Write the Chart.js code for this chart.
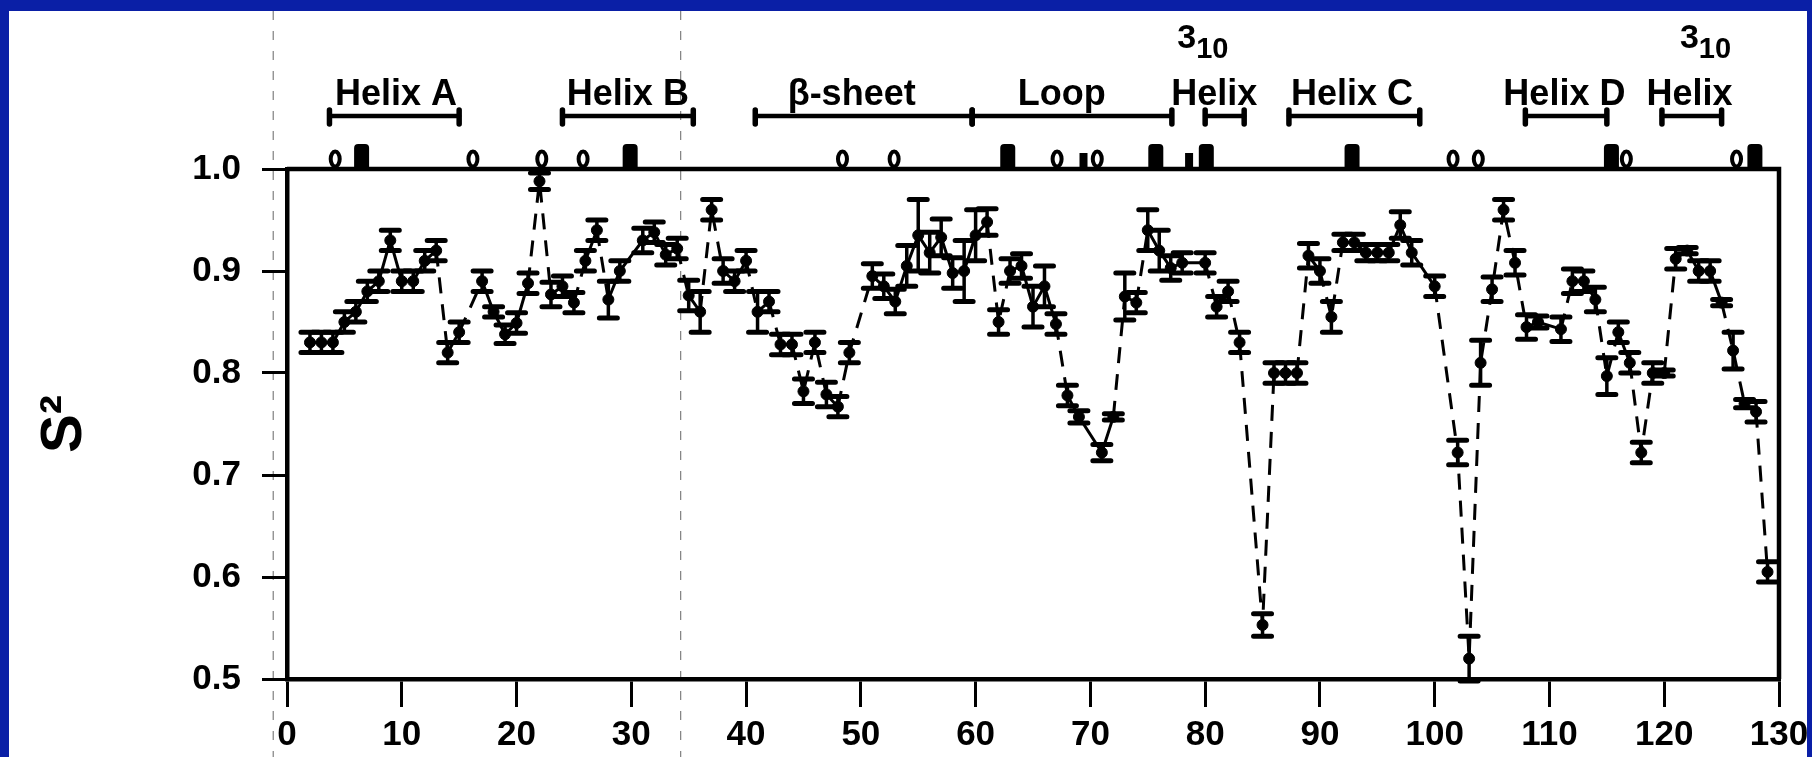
<!DOCTYPE html>
<html>
<head>
<meta charset="utf-8">
<script src="https://cdn.jsdelivr.net/npm/chart.js@4.4.1/dist/chart.umd.min.js"></script>
<style>
html,body{margin:0;padding:0;width:1812px;height:757px;overflow:hidden;background:#0a1fa6;}
#wrap{position:absolute;left:9px;top:11px;width:1798px;height:746px;background:#fff;}
canvas{display:block;}
</style>
</head>
<body>
<div id="wrap"><canvas id="c" width="1798" height="746"></canvas></div>
<script>
// ---------- data ----------
const residues = [2,3,4,5,6,7,8,9,10,11,12,13,14,15,17,18,19,20,21,22,23,24,25,26,27,28,29,31,32,33,34,35,36,37,38,39,40,41,42,43,44,45,46,47,48,49,51,52,53,54,55,56,57,58,59,60,61,62,63,64,65,66,67,68,69,71,72,73,74,75,76,77,78,80,81,82,83,85,86,87,88,89,90,91,92,93,94,95,96,97,98,100,102,103,104,105,106,107,108,109,111,112,113,114,115,116,117,118,119,120,121,122,123,124,125,126,127,128,129];
const s2 = [0.83,0.83,0.83,0.85,0.86,0.88,0.89,0.93,0.89,0.89,0.91,0.92,0.82,0.84,0.89,0.86,0.838,0.849,0.888,0.988,0.877,0.885,0.869,0.91,0.94,0.872,0.90,0.93,0.938,0.916,0.922,0.876,0.86,0.96,0.90,0.89,0.91,0.86,0.87,0.828,0.828,0.782,0.83,0.779,0.767,0.82,0.895,0.885,0.87,0.905,0.935,0.918,0.933,0.898,0.90,0.935,0.948,0.85,0.90,0.905,0.865,0.885,0.848,0.778,0.757,0.722,0.757,0.875,0.869,0.94,0.92,0.903,0.908,0.908,0.865,0.88,0.83,0.553,0.80,0.80,0.80,0.915,0.90,0.855,0.928,0.928,0.918,0.918,0.918,0.945,0.918,0.885,0.722,0.52,0.81,0.882,0.96,0.908,0.845,0.85,0.843,0.89,0.89,0.872,0.797,0.84,0.81,0.722,0.80,0.80,0.912,0.92,0.90,0.90,0.869,0.822,0.77,0.762,0.605];
const s2err = [0.01,0.01,0.01,0.01,0.01,0.01,0.01,0.01,0.01,0.01,0.01,0.01,0.01,0.01,0.01,0.005,0.009,0.01,0.01,0.008,0.012,0.01,0.01,0.01,0.01,0.018,0.01,0.012,0.01,0.01,0.01,0.015,0.02,0.01,0.012,0.01,0.01,0.02,0.01,0.01,0.01,0.012,0.01,0.012,0.01,0.01,0.012,0.012,0.012,0.02,0.035,0.02,0.018,0.015,0.03,0.025,0.013,0.012,0.012,0.012,0.02,0.02,0.01,0.01,0.006,0.008,0.003,0.023,0.01,0.02,0.02,0.012,0.01,0.01,0.01,0.01,0.01,0.011,0.01,0.01,0.01,0.012,0.012,0.015,0.008,0.008,0.008,0.008,0.008,0.013,0.012,0.01,0.012,0.022,0.022,0.012,0.01,0.012,0.012,0.006,0.012,0.012,0.01,0.012,0.018,0.01,0.01,0.01,0.01,0.003,0.01,0.003,0.01,0.01,0.003,0.018,0.004,0.01,0.01];

const xTickValues = [0,10,20,30,40,50,60,70,80,90,100,110,120,130];
const xTickLabels = ['0','10','20','30','40','50','60','70','80','90','100','110','120','130'];
const yTickValues = [0.5,0.6,0.7,0.8,0.9,1.0];
const yTickLabels = ['0.5','0.6','0.7','0.8','0.9','1.0'];

// secondary structure annotations (residue numbers)
const ssNames  = ['Helix A','Helix B','\u03B2-sheet','Loop','Helix','Helix C','Helix D','Helix'];
const ssLabelX = [9.5, 29.7, 49.2, 67.5, 80.8, 92.8, 111.3, 122.2];
const ssStart  = [3.7, 24.0, 40.8, 59.7, 80.0, 87.3, 107.9, 119.8];
const ssEnd    = [15.0, 35.4, 59.7, 77.1, 83.4, 98.7, 115.0, 125.0];
const helix310X = [79.8, 123.6];

// symbols along the top frame
const circleMarks = [4.2, 16.2, 22.2, 25.8, 48.4, 52.9, 67.1, 70.6, 101.6, 103.8, 116.7, 126.3];
const rectMarks   = [6.5, 29.9, 62.8, 75.7, 80.1, 92.8, 115.4, 127.9];
const smallMarks  = [69.4, 78.6];
// faint vertical scan lines of the original
const scanLines = [-1.2, 34.3];

// ---------- fonts ----------
function hasFont(name){
  const c = document.createElement('canvas').getContext('2d');
  const s = 'Helix A 0123456789';
  c.font = 'bold 40px monospace'; const w0 = c.measureText(s).width;
  c.font = "bold 40px '" + name + "', monospace"; const w1 = c.measureText(s).width;
  return Math.abs(w0 - w1) > 0.5;
}
const narrow = hasFont('Liberation Sans Narrow');
const FAM = narrow ? "'Liberation Sans Narrow', 'Liberation Sans', Arial, sans-serif" : "'Liberation Sans', Arial, sans-serif";
const TICK_SIZE = narrow ? 42 : 35;
const LABEL_SIZE = narrow ? 43 : 36;
const SUB3_SIZE = narrow ? 40 : 34;
const SUB10_SIZE = narrow ? 34 : 29;
const jumpLimit = 0.041;

const deco = {
  id: 'deco',
  beforeDatasetsDraw(chart){
    const {ctx, scales:{x, y}} = chart;
    ctx.save();
    ctx.strokeStyle = '#000';
    ctx.lineCap = 'round';
    residues.forEach((r, i) => {
      const px = x.getPixelForValue(r);
      const yt = y.getPixelForValue(s2[i] + s2err[i]);
      const yb = y.getPixelForValue(s2[i] - s2err[i]);
      ctx.lineWidth = 3.5;
      ctx.beginPath(); ctx.moveTo(px, yt); ctx.lineTo(px, yb); ctx.stroke();
      ctx.lineWidth = 5;
      ctx.beginPath();
      ctx.moveTo(px - 9, yt); ctx.lineTo(px + 9, yt);
      ctx.moveTo(px - 9, yb); ctx.lineTo(px + 9, yb);
      ctx.stroke();
    });
    ctx.restore();
  },
  afterDraw(chart){
    const {ctx, chartArea:a, scales:{x}} = chart;
    ctx.save();
    // faint scan lines
    ctx.strokeStyle = 'rgba(0,0,0,0.5)';
    ctx.lineWidth = 1.2;
    ctx.setLineDash([9, 11]);
    scanLines.forEach(v => {
      const px = x.getPixelForValue(v);
      ctx.beginPath(); ctx.moveTo(px, 0); ctx.lineTo(px, chart.height); ctx.stroke();
    });
    ctx.setLineDash([]);
    // top and right frame
    ctx.strokeStyle = '#000';
    ctx.lineWidth = 4.5;
    ctx.beginPath();
    ctx.moveTo(a.left, a.top); ctx.lineTo(a.right, a.top); ctx.lineTo(a.right, a.bottom);
    ctx.stroke();
    // symbols on top frame
    ctx.fillStyle = '#000';
    ctx.lineWidth = 4;
    circleMarks.forEach(v => {
      const px = x.getPixelForValue(v);
      ctx.beginPath(); ctx.ellipse(px, a.top - 10, 4.5, 7.5, 0, 0, Math.PI*2); ctx.stroke();
    });
    rectMarks.forEach(v => {
      const px = x.getPixelForValue(v);
      ctx.beginPath();
      if (ctx.roundRect) ctx.roundRect(px - 7.5, a.top - 25, 15, 25, [4,4,0,0]); else ctx.rect(px - 7.5, a.top - 25, 15, 25);
      ctx.fill();
    });
    smallMarks.forEach(v => {
      const px = x.getPixelForValue(v);
      ctx.fillRect(px - 4, a.top - 16, 8, 16);
    });
    // brackets
    const by = a.top - 53;
    ctx.lineCap = 'round';
    ssStart.forEach((s, i) => {
      const x0 = x.getPixelForValue(s), x1 = x.getPixelForValue(ssEnd[i]);
      ctx.lineWidth = 4.5;
      ctx.beginPath(); ctx.moveTo(x0, by); ctx.lineTo(x1, by); ctx.stroke();
      ctx.lineWidth = 5.5;
      ctx.beginPath();
      ctx.moveTo(x0, by - 6); ctx.lineTo(x0, by + 8);
      ctx.moveTo(x1, by - 6); ctx.lineTo(x1, by + 8);
      ctx.stroke();
    });
    // labels
    ctx.textAlign = 'center';
    ctx.textBaseline = 'alphabetic';
    ctx.font = 'bold ' + LABEL_SIZE + 'px ' + FAM;
    ssNames.forEach((t, i) => ctx.fillText(t, x.getPixelForValue(ssLabelX[i]), a.top - 64));
    ctx.textAlign = 'left';
    helix310X.forEach(v => {
      ctx.font = 'bold ' + SUB3_SIZE + 'px ' + FAM;
      const w3 = ctx.measureText('3').width;
      ctx.font = 'bold ' + SUB10_SIZE + 'px ' + FAM;
      const w10 = ctx.measureText('10').width;
      const sx = x.getPixelForValue(v) - (w3 + w10) / 2;
      ctx.font = 'bold ' + SUB3_SIZE + 'px ' + FAM;
      ctx.fillText('3', sx, a.top - 121);
      ctx.font = 'bold ' + SUB10_SIZE + 'px ' + FAM;
      ctx.fillText('10', sx + w3, a.top - 111);
    });
    ctx.restore();
  }
};

new Chart(document.getElementById('c'), {
  type: 'line',
  data: {
    datasets: [{
      data: residues.map((r, i) => ({x: r, y: s2[i]})),
      borderColor: '#000',
      borderWidth: 3,
      pointRadius: 5.5,
      pointHoverRadius: 5.5,
      pointBackgroundColor: '#000',
      pointBorderColor: '#000',
      pointBorderWidth: 1,
      fill: false,
      tension: 0,
      clip: false,
      segment: {
        borderDash: c => Math.abs(c.p1.parsed.y - c.p0.parsed.y) > jumpLimit ? [16, 11] : undefined
      }
    }]
  },
  options: {
    responsive: false,
    animation: false,
    devicePixelRatio: 1,
    layout: {padding: {top: 158, right: 28, bottom: 0, left: 0}},
    plugins: {legend: {display: false}, tooltip: {enabled: false}},
    scales: {
      x: {
        type: 'linear', min: 0, max: 130,
        afterBuildTicks: s => { s.ticks = xTickValues.map(v => ({value: v})); },
        afterFit: s => { s.height = 78; s.paddingLeft = 0; s.paddingRight = 0; },
        grid: {drawOnChartArea: false, drawTicks: true, tickLength: 28, tickWidth: 3, tickColor: '#000', color: '#000', lineWidth: 3},
        border: {display: true, color: '#000', width: 4.5},
        ticks: {
          color: '#000', padding: 7, maxRotation: 0, autoSkip: false,
          font: {family: FAM, size: TICK_SIZE, weight: 'bold'},
          callback: (v, i) => xTickLabels[i]
        }
      },
      y: {
        type: 'linear', min: 0.5, max: 1.0,
        afterBuildTicks: s => { s.ticks = yTickValues.map(v => ({value: v})); },
        afterFit: s => { s.width = 278; s.paddingTop = 0; s.paddingBottom = 0; },
        grid: {drawOnChartArea: false, drawTicks: true, tickLength: 25, tickWidth: 3, tickColor: '#000', color: '#000', lineWidth: 3},
        border: {display: true, color: '#000', width: 4.5},
        ticks: {
          color: '#000', padding: 21,
          font: {family: FAM, size: TICK_SIZE, weight: 'bold'},
          callback: (v, i) => yTickLabels[i]
        },
        title: {
          display: true, text: 'S\u00B2', color: '#000',
          font: {family: "'Liberation Sans', Arial, sans-serif", size: 58, weight: 'bold'},
          padding: {top: 21, bottom: 0}
        }
      }
    }
  },
  plugins: [deco]
});
</script>
</body>
</html>
